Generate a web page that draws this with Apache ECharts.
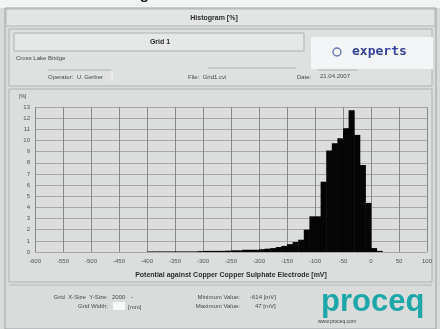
<!DOCTYPE html>
<html>
<head>
<meta charset="utf-8">
<script src="https://cdn.jsdelivr.net/npm/echarts@6/dist/echarts.min.js"></script>
<style>
  html, body { margin: 0; padding: 0; background: #d9dbdb; }
  #chart { width: 440px; height: 329px; }
</style>
</head>
<body>
<div id="chart"></div>
<script>
// Potential histogram: 10 mV bins, relative frequency in %
const binStart = [-400, -390, -380, -370, -360, -350, -340, -330, -320, -310,
                  -300, -290, -280, -270, -260, -250, -240, -230, -220, -210,
                  -200, -190, -180, -170, -160, -150, -140, -130, -120, -110,
                  -100, -90, -80, -70, -60, -50, -40, -30, -20, -10, 0, 10];
const freqPct = [0.05, 0.05, 0.05, 0.05, 0.05, 0.05, 0.05, 0.05, 0.05, 0.08,
                 0.1, 0.1, 0.1, 0.1, 0.12, 0.15, 0.15, 0.2, 0.2, 0.2,
                 0.25, 0.3, 0.35, 0.45, 0.55, 0.7, 0.9, 1.1, 2.0, 3.2,
                 3.2, 6.3, 9.1, 9.75, 10.2, 11.1, 12.7, 10.5, 7.8, 4.4, 0.35, 0.1];
const binWidth = 10;
const xTicks = { min: -600, max: 100, step: 50 };
const yTicks = { min: 0, max: 13, step: 1 };

const bars = binStart.map((s, i) => [s, s + binWidth, freqPct[i]]);

const chart = echarts.init(document.getElementById('chart'), null, { renderer: 'canvas' });

const font = 'Liberation Sans, Arial, sans-serif';
const txt = (x, y, text, opt = {}) => ({
  type: 'text', x, y, silent: true,
  style: Object.assign({ text, font: '6px ' + font, fill: '#45484d', textVerticalAlign: 'middle' }, opt)
});
const rect = (x, y, w, h, fill, stroke, lw) => ({
  type: 'rect', silent: true, shape: { x, y, width: w, height: h },
  style: { fill: fill || 'none', stroke: stroke || null, lineWidth: lw || 1 }
});
const line = (x1, y1, x2, y2, stroke, lw) => ({
  type: 'line', silent: true, shape: { x1, y1, x2, y2 },
  style: { stroke: stroke || '#9a9c9e', lineWidth: lw || 1 }
});

const frame = [
  // page strip and window frame
  rect(0, 0, 440, 8, '#f2f3f3'),
  txt(8, -5, 'Potentialfeld Histogramm', { font: 'bold 15px ' + font, fill: '#202225' }),
  rect(5, 8, 431, 321, '#dadcdc', '#9fa2a4', 1),
  // title bar
  rect(6, 9, 429, 17, '#e3e4e4', '#b5b7b8', 1),
  txt(214, 18, 'Histogram [%]', { font: 'bold 7px ' + font, fill: '#2a2c30', textAlign: 'center' }),
  // header panel
  rect(9, 29, 423, 57, '#dfe0e0', '#b0b2b3', 1),
  rect(14, 33, 290, 18, '#e6e7e7', '#aeb0b1', 1),
  txt(160, 42, 'Grid 1', { font: 'bold 7px ' + font, fill: '#2a2c30', textAlign: 'center' }),
  txt(16, 58, 'Cross Lake Bridge', { font: '6px ' + font }),
  line(48, 70, 112, 70, '#b0b2b3'),
  txt(48, 77, 'Operator:  U. Gerber', { font: '6px ' + font }),
  line(112, 70, 112, 82, '#f5f5f5'),
  line(208, 68, 296, 68, '#b0b2b3'),
  txt(188, 77, 'File:  Grid1.cvi', { font: '6px ' + font }),
  txt(297, 77, 'Date:', { font: '6px ' + font }),
  line(318, 70, 358, 70, '#b0b2b3'),
  txt(320, 76, '21.04.2007', { font: '6px ' + font }),
  // experts logo
  rect(311, 37, 122, 32, '#f4f5f7'),
  { type: 'circle', silent: true, shape: { cx: 337, cy: 52, r: 4 },
    style: { fill: 'none', stroke: '#6a78b8', lineWidth: 1.4 } },
  txt(352, 52, 'experts', { font: 'bold 13px "DejaVu Sans Mono", monospace', fill: '#34439c' }),
  // chart panel
  rect(9, 89, 423, 193, '#dcdede', '#b0b2b3', 1),
  txt(19, 97, '[%]', { font: '5px ' + font }),
  // footer
  line(9, 285, 432, 285, '#b5b7b8'),
  txt(108, 297, 'Grid  X-Size  Y-Size:', { font: '6px ' + font, textAlign: 'right' }),
  txt(112, 297, '2000', { font: '6px ' + font }),
  txt(131, 297, '-', { font: '6px ' + font }),
  txt(108, 306, 'Grid Width:', { font: '6px ' + font, textAlign: 'right' }),
  rect(113, 302, 12, 8, '#f7f8f8'),
  txt(128, 307, '[mm]', { font: '6px ' + font }),
  txt(240, 297, 'Minimum Value:', { font: '6px ' + font, textAlign: 'right' }),
  txt(240, 306, 'Maximum Value:', { font: '6px ' + font, textAlign: 'right' }),
  txt(250, 297, '-614 [mV]', { font: '6px ' + font }),
  txt(255, 306, '47 [mV]', { font: '6px ' + font }),
  txt(321, 302, 'proceq', { font: 'bold 31px ' + font, fill: '#1ea7a9' }),
  txt(318, 322, 'www.proceq.com', { font: '5px ' + font, fill: '#3a3c40' })
];

chart.setOption({
  animation: false,
  backgroundColor: '#d9dbdb',
  grid: { left: 35, right: 13, top: 107, bottom: 77, backgroundColor: '#ffffff', show: true, borderWidth: 0 },
  xAxis: {
    type: 'value', min: xTicks.min, max: xTicks.max, interval: xTicks.step,
    name: 'Potential against Copper Copper Sulphate Electrode [mV]',
    nameLocation: 'middle', nameGap: 20,
    nameTextStyle: { fontFamily: font, fontSize: 7, fontWeight: 'bold', color: '#2a2c30' },
    axisLine: { show: false }, axisTick: { show: false },
    axisLabel: { fontFamily: font, fontSize: 6, color: '#4f5256', margin: 6 },
    splitLine: { show: true, lineStyle: { color: '#868a8f', width: 1 } }
  },
  yAxis: {
    type: 'value', min: yTicks.min, max: yTicks.max, interval: yTicks.step,
    axisLine: { show: false }, axisTick: { show: false },
    axisLabel: { fontFamily: font, fontSize: 6, color: '#4f5256', margin: 5 },
    splitLine: { show: true, lineStyle: { color: '#a9a6a8', width: 1 } }
  },
  graphic: { elements: frame },
  series: [{
    type: 'custom',
    data: bars,
    encode: { x: [0, 1], y: 2 },
    renderItem: (params, api) => {
      const p0 = api.coord([api.value(0), api.value(2)]);
      const p1 = api.coord([api.value(1), 0]);
      return {
        type: 'rect',
        shape: { x: p0[0], y: p0[1], width: p1[0] - p0[0] + 0.5, height: p1[1] - p0[1] },
        style: { fill: '#050505' }
      };
    }
  }]
});
</script>
</body>
</html>
